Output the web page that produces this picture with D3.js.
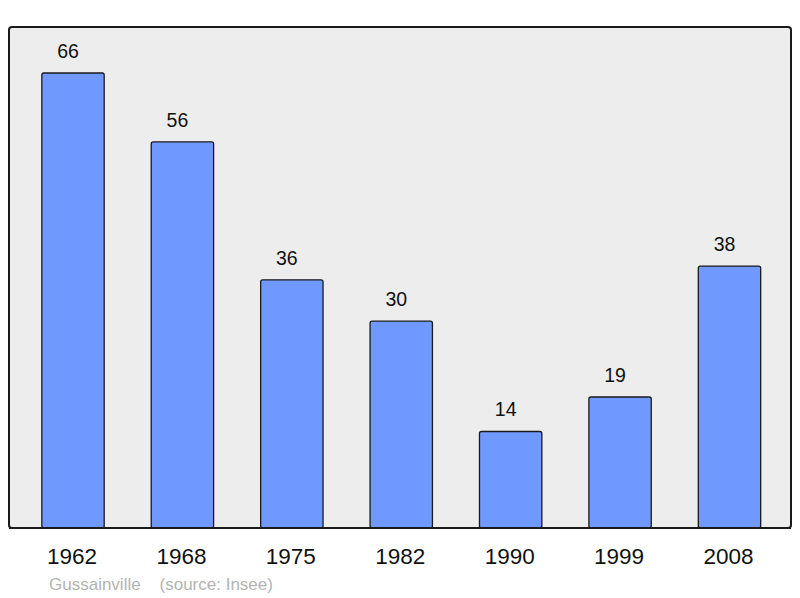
<!DOCTYPE html>
<html>
<head>
<meta charset="utf-8">
<script src="https://cdn.jsdelivr.net/npm/d3@7"></script>
<style>
  html, body { margin: 0; padding: 0; background: #ffffff; }
  svg { display: block; font-family: "Liberation Sans", Arial, sans-serif; }
</style>
</head>
<body>
<div id="chart"></div>
<script>
// population data
const years = ["1962", "1968", "1975", "1982", "1990", "1999", "2008"];
const population = [66, 56, 36, 30, 14, 19, 38];
const commune = "Gussainville";
const source = "(source: Insee)";

const width = 800, height = 598;

const svg = d3.select("#chart").append("svg")
    .attr("width", width)
    .attr("height", height)
    .attr("viewBox", `0 0 ${width} ${height}`);

// plot frame
const frame = { x: 9, y: 27, w: 782, h: 501 };
const baseY = frame.y + frame.h;

svg.append("rect")
    .attr("x", frame.x)
    .attr("y", frame.y)
    .attr("width", frame.w)
    .attr("height", frame.h)
    .attr("rx", 3)
    .attr("fill", "#ededed")
    .attr("stroke", "#1a1a1a")
    .attr("stroke-width", 2);

const x = d3.scaleBand()
    .domain(years)
    .range([18.3, 784.2])
    .paddingInner(0.43)
    .paddingOuter(0.215);

const y = d3.scaleLinear()
    .domain([0, d3.max(population)])
    .range([baseY, 73]);

const data = years.map((yr, i) => ({ year: yr, value: population[i] }));

svg.selectAll(".bar")
    .data(data)
    .enter().append("rect")
    .attr("class", "bar")
    .attr("x", d => x(d.year))
    .attr("y", d => y(d.value))
    .attr("width", x.bandwidth())
    .attr("height", d => baseY - y(d.value))
    .attr("rx", 2)
    .attr("fill", "#7099ff")
    .attr("stroke", "#1a1a1a")
    .attr("stroke-width", 1.3);

// redraw bottom edge of frame over bars
svg.append("line")
    .attr("x1", frame.x)
    .attr("x2", frame.x + frame.w)
    .attr("y1", baseY)
    .attr("y2", baseY)
    .attr("stroke", "#1a1a1a")
    .attr("stroke-width", 2);

// value labels (sit a little left of bar centre, as in the original)
svg.selectAll(".val")
    .data(data)
    .enter().append("text")
    .attr("class", "val")
    .attr("x", d => x(d.year) + x.bandwidth() / 2 - 5)
    .attr("y", d => y(d.value) - 15)
    .attr("text-anchor", "middle")
    .attr("font-size", "19.5px")
    .attr("fill", "#111")
    .text(d => d.value);

// year labels via axis
const axis = svg.append("g")
    .attr("transform", `translate(0,${baseY})`)
    .call(d3.axisBottom(x).tickSize(0).tickPadding(0));
axis.select(".domain").remove();
axis.selectAll("text")
    .attr("x", -1)
    .attr("y", 36)
    .attr("dy", 0)
    .attr("font-size", "22.5px")
    .attr("font-family", "Liberation Sans, Arial, sans-serif")
    .attr("fill", "#111");

// source line
svg.append("text")
    .attr("x", 49)
    .attr("y", 590)
    .attr("font-size", "17px")
    .attr("fill", "#b3b3b3")
    .attr("xml:space", "preserve")
    .text(commune + "    " + source);
</script>
</body>
</html>
